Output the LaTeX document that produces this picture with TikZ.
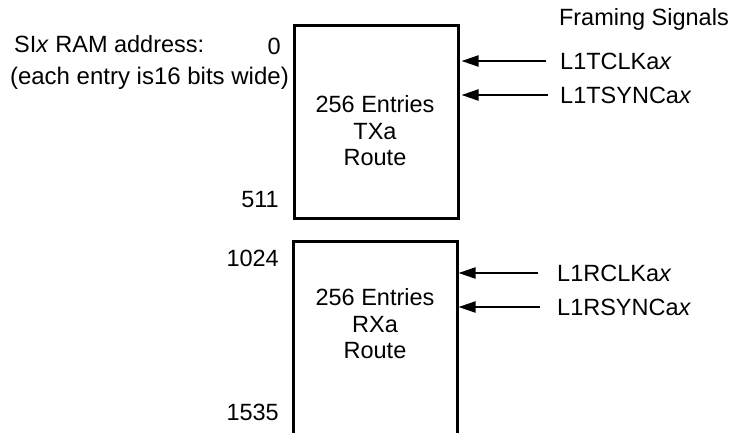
\documentclass[tikz,border=0pt]{standalone}
\usepackage{fontspec}
\setmainfont{Liberation Sans}
\usetikzlibrary{arrows.meta}
\begin{document}
\begin{tikzpicture}[x=1pt,y=-1pt,
  lbl/.style={inner sep=0pt, font=\fontsize{23.5}{26}\selectfont},
  boxline/.style={line width=3pt},
  sig/.style={line width=2pt, -{Triangle[length=17pt,width=11pt]}},
  inner/.style={lbl, align=center, font=\fontsize{23.5}{26.5}\selectfont}]
\useasboundingbox (0,0) rectangle (732,432);
% top box
\node[boxline, draw, minimum width=164pt, minimum height=193pt, anchor=north west, inner sep=0pt] (tx) at (293,24) {};
\node[inner] (txt) at (375,131) {256 Entries\\TXa\\Route};
% bottom box (open at the bottom)
\coordinate (rxbl) at (293,440);
\coordinate (rxtl) at (293,241);
\coordinate (rxtr) at (457,241);
\coordinate (rxbr) at (457,440);
\draw[boxline] (rxbl) -- (rxtl) -- (rxtr) -- (rxbr);
\node[inner] (rxt) at (375,324) {256 Entries\\RXa\\Route};
% left labels
\node[lbl, anchor=west] (addr) at (14,44) {SI\textit{x} RAM address:};
\node[lbl, anchor=east, font=\fontsize{24}{26}\selectfont] (wide) at (289,78) {(each entry is16 bits wide)};
\node[lbl, anchor=east] (a0) at (281,46) {0};
\node[lbl, anchor=east] (a511) at (279,200) {511};
\node[lbl, anchor=east] (a1024) at (279,258) {1024};
\node[lbl, anchor=east] (a1535) at (279,412) {1535};
% framing signals
\node[lbl, anchor=east] (fs) at (729,19) {Framing Signals};
\node[lbl, anchor=west] (tclk) at (560,61) {L1TCLKa\textit{x}};
\node[lbl, anchor=west] (tsync) at (560,95) {L1TSYNCa\textit{x}};
\node[lbl, anchor=west] (rclk) at (557,273) {L1RCLKa\textit{x}};
\node[lbl, anchor=west] (rsync) at (557,307) {L1RSYNCa\textit{x}};
\draw[sig] ([xshift=-14pt]tclk.west) -- ([xshift=1.5pt]tx.east |- tclk.west);
\draw[sig] ([xshift=-12pt]tsync.west) -- ([xshift=1.5pt]tx.east |- tsync.west);
\draw[sig] ([xshift=-19pt]rclk.west) -- ([xshift=1.5pt]rxtr |- rclk.west);
\draw[sig] ([xshift=-17pt]rsync.west) -- ([xshift=1.5pt]rxtr |- rsync.west);
\end{tikzpicture}
\end{document}
